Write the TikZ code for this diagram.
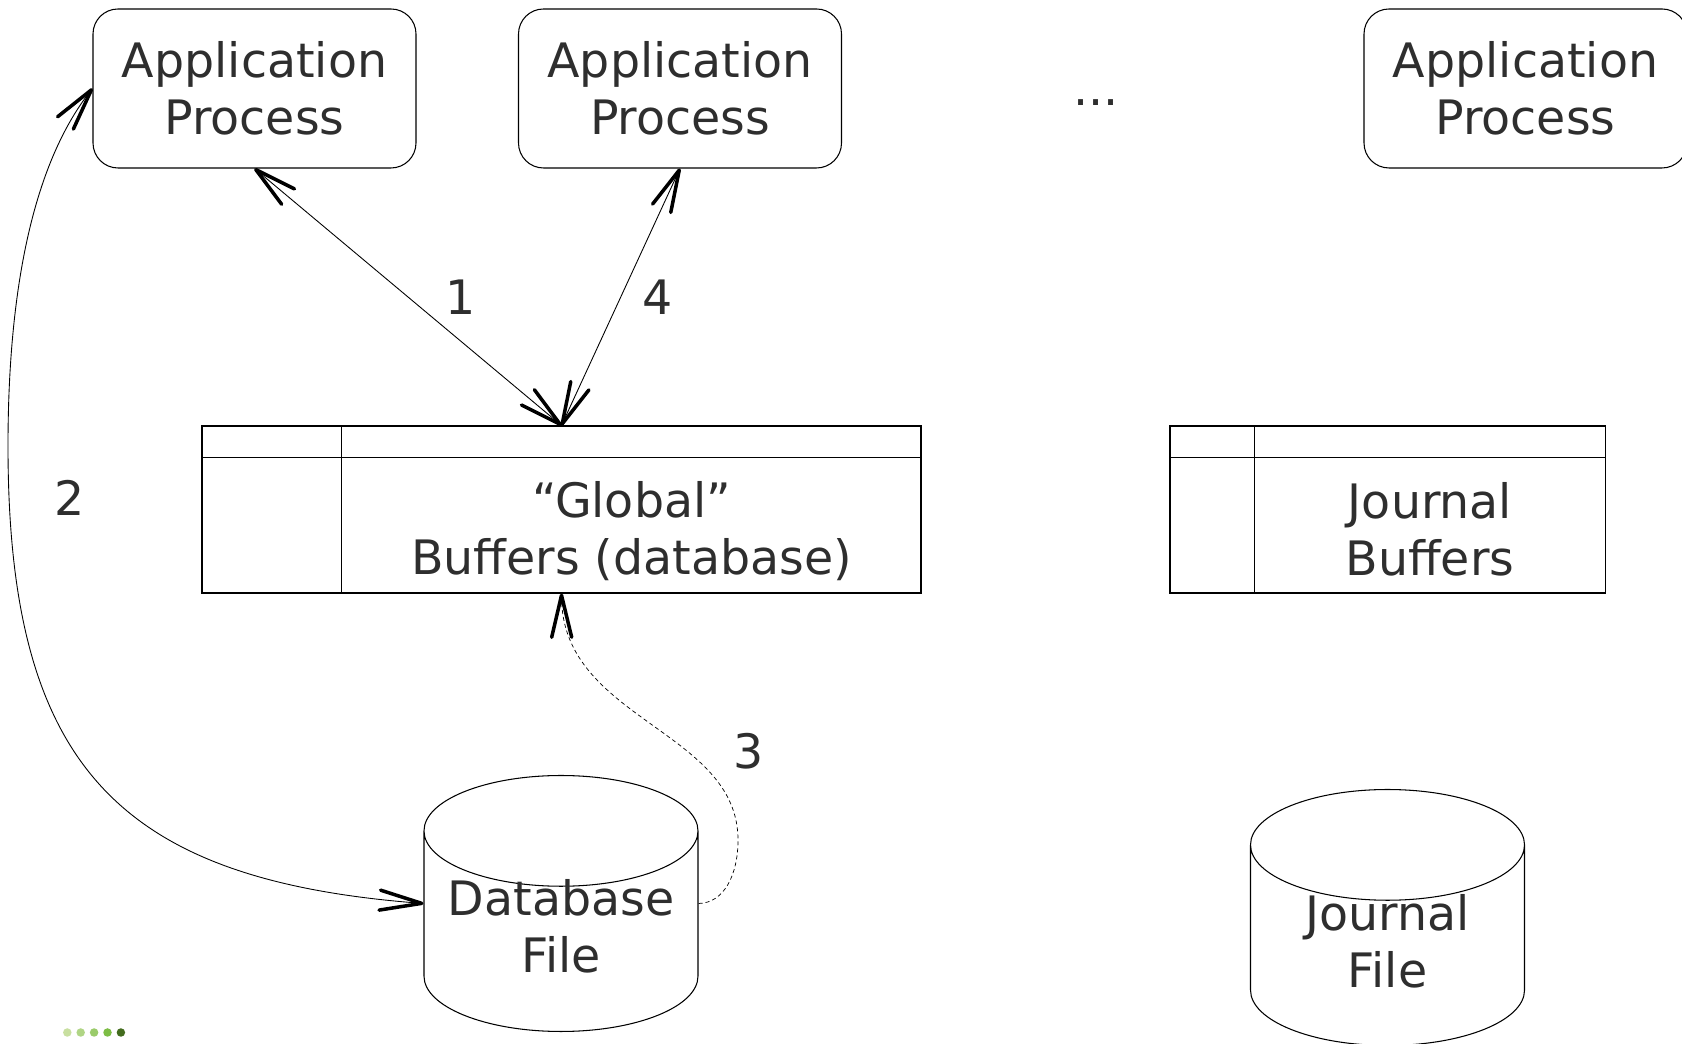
\documentclass[tikz,border=0pt]{standalone}
\usepackage{fontspec}
\setmainfont{DejaVu Sans}
\usepackage{tikz}
\usetikzlibrary{arrows.meta, shapes.geometric, positioning}

\definecolor{ink}{HTML}{2E2E2E}
\definecolor{dotA}{HTML}{C8DFA0}
\definecolor{dotB}{HTML}{B0D585}
\definecolor{dotC}{HTML}{9ACB6A}
\definecolor{dotD}{HTML}{7DBD45}
\definecolor{dotE}{HTML}{436C1E}
\newcommand{\bigfont}{\fontsize{27}{32.4}\selectfont}

\tikzset{
  procbox/.style={draw, line width=0.6pt, rounded corners=0.5cm, minimum width=6.46cm,
    minimum height=3.18cm, align=center, text=ink, font=\bigfont},
  buftable/.style={draw, line width=0.6pt, minimum height=3.34cm, inner sep=0pt},
  buftext/.style={align=center, text=ink, font=\bigfont},
  diskfile/.style={cylinder, shape border rotate=90, draw, line width=0.6pt, aspect=0.465,
    align=center, font=\bigfont,
    minimum width=5.48cm, minimum height=5.05cm, anchor=shape center},
  num/.style={text=ink, font=\bigfont},
  conn/.style={line width=0.5pt},
}

\begin{document}
\begin{tikzpicture}[>={Straight Barb[length=0.84cm, width=0.4cm, line width=2pt, round]}]
  \useasboundingbox (0,0) rectangle (33.64,20.88);

  % processes
  \node[procbox] (ap1) at (5.09,19.11) {Application\\Process};
  \node[procbox] (ap2) at (13.6,19.11) {Application\\Process};
  \node[num] (more) at (21.92,18.82) {...};
  \node[procbox] (ap3) at (30.51,19.11) {Application\\Process};

  % buffers
  \node[buftable, minimum width=14.38cm] (gb) at (11.23,10.69) {};
  \draw[line width=0.6pt] ([yshift=-0.64cm]gb.north west) -- ([yshift=-0.64cm]gb.north east);
  \draw[line width=0.6pt] ([xshift=2.8cm]gb.north west) -- ([xshift=2.8cm]gb.south west);
  \node[buftext] (gbtext) at (12.63,10.25) {“Global”\\Buffers (database)};

  \node[buftable, minimum width=8.7cm] (jb) at (27.75,10.69) {};
  \draw[line width=0.6pt] ([yshift=-0.64cm]jb.north west) -- ([yshift=-0.64cm]jb.north east);
  \draw[line width=0.6pt] ([xshift=1.7cm]jb.north west) -- ([xshift=1.7cm]jb.south west);
  \node[buftext] (jbtext) at (28.6,10.3) {Journal\\Buffers};

  % files (cylinder sized by hidden copy of its text)
  \node[diskfile] (db) at (11.22,2.81) {\phantom{Database}\\\phantom{File}};
  \node[buftext] (dbtext) at ([yshift=-0.45cm]db.shape center) {Database\\File};
  \node[diskfile] (jf) at (27.75,2.53) {\phantom{Database}\\\phantom{File}};
  \node[buftext] (jftext) at ([yshift=-0.47cm]jf.shape center) {Journal\\File};

  % connectors
  \path[<->, conn]
  (ap1.south) edge node[num, xshift=1.06cm] (n1) {1} (gb.north)
  (ap2.south) edge node[num, xshift=0.74cm] (n4) {4} (gb.north);

  \draw[<->, conn] (ap1.west) .. controls (0.62,17.54) and (0.16,14.96) .. (0.16,11.96)
    .. controls (0.16,5.56) and (2.36,3.28) .. (db.shape center -| db.west);
  \node[num] (n2) at (1.4,10.92) {2};

  \draw[->, conn, line width=0.4pt, dash pattern=on 2.3pt off 1.7pt] (db.shape center -| db.east)
    .. controls (14.48,2.82) and (14.76,3.38) .. (14.76,4.08)
    .. controls (14.76,6.28) and (11.24,6.48) .. (gb.south);
  \node[num] (n3) at (14.98,5.86) {3};

  % logo dots
  \foreach \c [count=\i] in {dotA,dotB,dotC,dotD,dotE}
    \fill[\c] (1.078+0.268*\i,0.23) circle (0.085);
\end{tikzpicture}
\end{document}
